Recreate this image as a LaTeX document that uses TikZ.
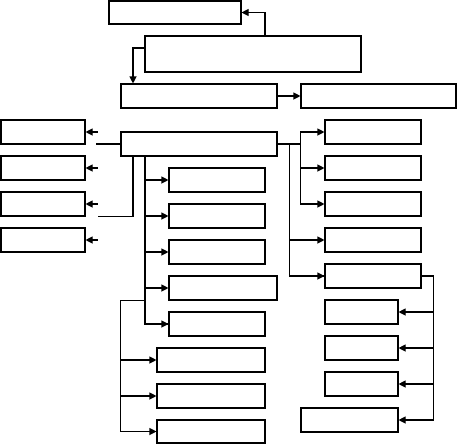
\documentclass[tikz,border=0pt]{standalone}
\usepackage{tikz}
\usetikzlibrary{arrows.meta,calc}
\tikzset{
box/.style={
draw,
line width=1.1pt,
inner sep=0pt,
minimum width=96pt,
minimum height=24pt
},
arrow/.style={
-{Triangle[length=7pt,width=7pt]},
line width=1.1pt
},
wire/.style={
line width=1.1pt
}
}

\begin{document}
\begin{tikzpicture}[x=1pt,y=-1pt]
\useasboundingbox (0,0) rectangle (457,445);
% top part
\node[box,minimum width=132pt,minimum height=23pt](top) at (175,12.5){};
\node[box,minimum width=216pt,minimum height=36pt](srv) at (253,54){};
\node[box,minimum width=156pt](c) at (199,96){};
\node[box,minimum width=155pt](d) at (378.5,96){};
\node[box,minimum width=156pt](e) at (199,144){};

% left column
\node[box,minimum width=84pt](l1) at (43,132){};
\node[box,minimum width=84pt](l2) at (43,168){};
\node[box,minimum width=84pt](l3) at (43,204){};
\node[box,minimum width=84pt](l4) at (43,240){};

% middle column
\node[box](m1) at (217,180){};
\node[box](m2) at (217,216){};
\node[box](m3) at (217,252){};
\node[box,minimum width=108pt](m4) at (223,288){};
\node[box](m5) at (217,324){};
\node[box,minimum width=108pt](b1) at (211,360){};
\node[box,minimum width=108pt](b2) at (211,396){};
\node[box,minimum width=108pt,minimum height=23pt](b3) at (211,431.5){};

% right column
\node[box](r1) at (373,132){};
\node[box](r2) at (373,168){};
\node[box](r3) at (373,204){};
\node[box](r4) at (373,240){};
\node[box](r5) at (373,276){};
\node[box,minimum width=73pt](s1) at (361.5,312){};
\node[box,minimum width=73pt](s2) at (361.5,348){};
\node[box,minimum width=73pt](s3) at (361.5,384){};
\node[box,minimum width=97pt](s4) at (349.5,420){};

% buses
\coordinate (bus1) at ([xshift=-54pt]e.south);
\coordinate (bus3) at ([xshift=12pt]e.east);
\coordinate (bus4) at ([xshift=12pt]r5.east);

\draw[arrow]([xshift=12pt]srv.north)|-(top.east);
\draw[arrow]([yshift=6pt]srv.west)-|([xshift=-66pt]c.north);
\draw[arrow](c)--(d);

\foreach \x in {l1,l2,l3,l4}
\draw[arrow]([xshift=12pt]\x.east)--(\x.east);
\draw[wire]([xshift=-24pt]e.west)--(e.west);
\draw[wire]([xshift=-66pt]e.south)|-([xshift=12pt]l3.south east);

\draw[wire](bus1)|-(m5.west);
\foreach \x in {m1,m2,m3,m4,m5}
\draw[arrow](bus1|-\x.west)--(\x.west);
\draw[wire](bus1|-m4.south)-|(e.south west|-b3.west);
\foreach \x in {b1,b2,b3}
\draw[arrow](e.south west|-\x.west)--(\x.west);

\draw[wire](e.east)--(e.east-|d.west);
\draw[wire](d.west|-r1.west)--(d.west|-r3.west);
\foreach \x in {r1,r2,r3}
\draw[arrow](d.west|-\x.west)--(\x.west);
\draw[wire](bus3)|-(r5.west);
\foreach \x in {r4,r5}
\draw[arrow](bus3|-\x.west)--(\x.west);

\draw[wire](r5.east)-|(bus4|-s4.east);
\foreach \x in {s1,s2,s3,s4}
\draw[arrow](bus4|-\x.east)--(\x.east);
\end{tikzpicture}
\end{document}
